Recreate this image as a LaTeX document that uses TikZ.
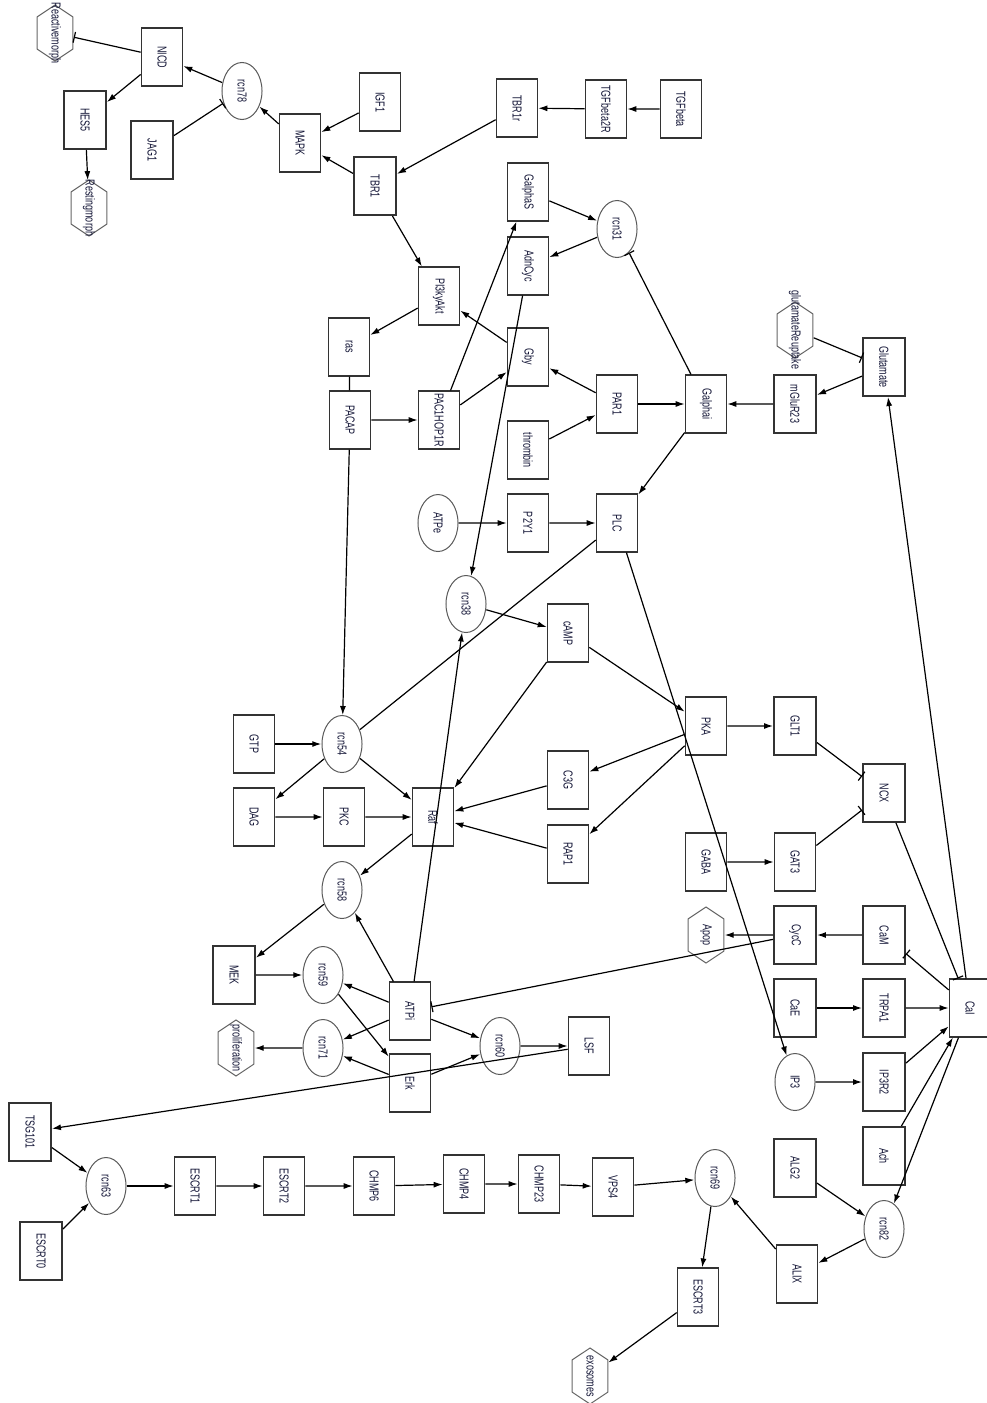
\documentclass[tikz,border=0pt]{standalone}
\usepackage{fontspec}
\setmainfont{Liberation Sans}
\usepackage{tikz}
\usetikzlibrary{arrows.meta,shapes.geometric,shapes.symbols}
\definecolor{lbl}{RGB}{20,22,55}
\newcommand{\wide}[1]{\makebox[0pt]{#1}}

\begin{document}
\begin{tikzpicture}[x=1pt,y=-1pt,line width=1.2pt,
  >={Latex[length=9pt,width=6pt]},
  every node/.style={rotate=-90,yscale=1.45,inner sep=0pt,font=\fontsize{9}{10}\selectfont,text=lbl},
  box/.style={draw=black!80,line width=1.1pt,minimum width=58pt,minimum height=28.3pt},
  bold/.style={box,line width=2pt},
  rcn/.style={ellipse,draw=black!65,line width=1pt,minimum width=57pt,minimum height=27.6pt},
  hex/.style={signal,signal to=east and west,signal pointer angle=92,
    draw=black!60,line width=1pt,minimum width=56pt,minimum height=24.8pt},
  inh/.style={-{Bar[width=11pt]}}]
\useasboundingbox (0,0) rectangle (987,1403);
% phenotypes
\node[hex] (reactive) at (55,33) {\wide{Reactivemorph}};
\node[hex] (resting) at (89,208) {\wide{Restingmorph}};
\node[hex] (glureup) at (795,330) {\wide{glutamateReuptake}};
\node[hex] (apop) at (706,935) {Apop};
\node[hex] (prolif) at (236,1048) {\wide{proliferation}};
\node[hex] (exo) at (590,1376) {\wide{exosomes}};
% reactions
\node[rcn] (rcn78) at (242,91) {rcn78};
\node[rcn] (rcn31) at (617,229) {rcn31};
\node[rcn] (atpe) at (438,523) {ATPe};
\node[rcn] (rcn38) at (466,604) {rcn38};
\node[rcn] (rcn54) at (342,744) {rcn54};
\node[rcn] (rcn58) at (342,890) {rcn58};
\node[rcn] (rcn59) at (323,975) {rcn59};
\node[rcn] (rcn71) at (323,1048) {rcn71};
\node[rcn] (rcn60) at (500,1046) {rcn60};
\node[rcn] (ip3) at (795,1082) {IP3};
\node[rcn] (rcn63) at (106,1186) {rcn63};
\node[rcn] (rcn69) at (715,1178) {rcn69};
\node[rcn] (rcn82) at (884,1229) {rcn82};
% species
\node[box] (nicd) at (162,57) {NICD};
\node[bold] (hes5) at (85,120) {HES5};
\node[bold] (jag1) at (152,150) {JAG1};
\node[box] (mapk) at (300,143) {MAPK};
\node[box] (igf1) at (380,102) {IGF1};
\node[box] (tbr1r) at (517,108) {TBR1r};
\node[box] (tgfb2r) at (606,109) {TGFbeta2R};
\node[box] (tgfb) at (681,109) {TGFbeta};
\node[bold] (tbr1) at (375,186) {TBR1};
\node[box] (galphas) at (528,192) {GalphaS};
\node[box] (adncyc) at (528,266) {AdnCyc};
\node[box] (pi3k) at (439,296) {PI3kyAkt};
\node[box] (ras) at (349,347) {ras};
\node[box] (gby) at (528,357) {Gby};
\node[box] (pacap) at (350,420) {PACAP};
\node[box] (pac1) at (439,420) {\wide{PAC1HOP1R}};
\node[box] (par1) at (617,404) {PAR1};
\node[box] (thrombin) at (528,450) {thrombin};
\node[box] (p2y1) at (528,523) {P2Y1};
\node[box] (plc) at (617,523) {PLC};
\node[box] (camp) at (568,633) {cAMP};
\node[box] (galphai) at (706,404) {Galphai};
\node[bold] (mglur) at (795,404) {mGluR23};
\node[bold] (glut) at (884,367) {Glutamate};
\node[box] (gtp) at (254,744) {GTP};
\node[box] (dag) at (254,817) {DAG};
\node[box] (pkc) at (344,817) {PKC};
\node[box] (raf) at (433,817) {Raf};
\node[box] (c3g) at (568,780) {C3G};
\node[box] (rap1) at (568,854) {RAP1};
\node[bold] (mek) at (234,975) {MEK};
\node[box] (atpi) at (410,1011) {ATPi};
\node[box] (lsf) at (589,1046) {LSF};
\node[box] (erk) at (410,1083) {Erk};
\node[box] (pka) at (706,726) {PKA};
\node[bold] (glt1) at (795,726) {GLT1};
\node[bold] (ncx) at (884,793) {NCX};
\node[box] (gaba) at (706,862) {GABA};
\node[box] (gat3) at (795,862) {GAT3};
\node[bold] (cycc) at (795,935) {CycC};
\node[bold] (cam) at (884,935) {CaM};
\node[bold] (cae) at (795,1008) {CaE};
\node[bold] (trpa1) at (884,1008) {TRPA1};
\node[box] (cai) at (970,1008) {CaI};
\node[bold] (ip3r2) at (884,1082) {IP3R2};
\node[bold] (ach) at (884,1156) {Ach};
\node[bold] (alg2) at (795,1168) {ALG2};
\node[box] (alix) at (797,1274) {ALIX};
\node[box] (escrt3) at (698,1297) {ESCRT3};
\node[bold] (tsg101) at (30,1132) {TSG101};
\node[bold] (escrt0) at (41,1251) {ESCRT0};
\node[box] (escrt1) at (195,1186) {ESCRT1};
\node[box] (escrt2) at (284,1186) {ESCRT2};
\node[box] (chmp6) at (374,1186) {CHMP6};
\node[box] (chmp4) at (464,1184) {CHMP4};
\node[box] (chmp23) at (539,1184) {CHMP23};
\node[box] (vps4) at (613,1187) {VPS4};
% activations
\draw[->] (rcn78)--(nicd); \draw[->] (nicd)--(hes5);
\draw[->] (mapk)--(rcn78); \draw[->] (hes5)--(resting);
\draw[->] (igf1)--(mapk); \draw[->] (tbr1)--(mapk);
\draw[->] (tgfb)--(tgfb2r); \draw[->] (tgfb2r)--(tbr1r);
\draw[->] (tbr1r)--(tbr1); \draw[->] (tbr1)--(pi3k);
\draw[->] (galphas)--(rcn31); \draw[->] (rcn31)--(adncyc);
\draw[->] (pi3k)--(ras); \draw[->] (gby)--(pi3k);
\draw[->] (pac1)--(galphas); \draw[->] (adncyc)--(rcn38);
\draw[->] (pacap)--(pac1); \draw[->] (pac1)--(gby);
\draw[->] (par1)--(gby); \draw[->] (thrombin)--(par1);
\draw[->] (par1)--(galphai); \draw[->] (mglur)--(galphai);
\draw[->] (glut)--(mglur); \draw[->] (galphai)--(plc);
\draw[->] (atpe)--(p2y1); \draw[->] (p2y1)--(plc);
\draw[->] (plc)--(ip3); \draw[->] (rcn38)--(camp);
\draw[->] (camp)--(pka); \draw[->] (camp)--(raf);
\draw[->] (pka)--(c3g); \draw[->] (pka)--(rap1);
\draw[->] (c3g)--(raf); \draw[->] (rap1)--(raf);
\draw[->] (pacap)--(rcn54); \draw[->] (gtp)--(rcn54);
\draw[->] (rcn54)--(dag); \draw[->] (dag)--(pkc);
\draw[->] (pkc)--(raf); \draw[->] (rcn54)--(raf);
\draw[->] (raf)--(rcn58); \draw[->] (atpi)--(rcn38);
\draw[->] (atpi)--(rcn58); \draw[->] (rcn58)--(mek);
\draw[->] (mek)--(rcn59); \draw[->] (atpi)--(rcn59);
\draw[->] (rcn59)--(erk); \draw[->] (atpi)--(rcn71);
\draw[->] (erk)--(rcn71); \draw[->] (rcn71)--(prolif);
\draw[->] (atpi)--(rcn60); \draw[->] (erk)--(rcn60);
\draw[->] (rcn60)--(lsf); \draw[->] (lsf)--(tsg101);
\draw[->] (tsg101)--(rcn63); \draw[->] (escrt0)--(rcn63);
\draw[->] (rcn63)--(escrt1); \draw[->] (escrt1)--(escrt2);
\draw[->] (escrt2)--(chmp6); \draw[->] (chmp6)--(chmp4);
\draw[->] (chmp4)--(chmp23); \draw[->] (chmp23)--(vps4);
\draw[->] (vps4)--(rcn69); \draw[->] (rcn69)--(escrt3);
\draw[->] (escrt3)--(exo); \draw[->] (alix)--(rcn69);
\draw[->] (alg2)--(rcn82); \draw[->] (rcn82)--(alix);
\draw[->] (cai)--(rcn82); \draw[->] (ip3)--(ip3r2);
\draw[->] (ip3r2)--(cai); \draw[->] (ach)--(cai);
\draw[->] (cae)--(trpa1); \draw[->] (trpa1)--(cai);
\draw[->] (cam)--(cycc); \draw[->] (cycc)--(apop);
\draw[->] (cai)--(glut); \draw[->] (pka)--(glt1);
\draw[->] (gaba)--(gat3);
% inhibitions
\draw[inh] (nicd)--(reactive); \draw[inh] (jag1)--(rcn78);
\draw[inh] (galphai)--(rcn31); \draw[inh] (glureup)--(glut);
\draw[inh] (cai)--(cam); \draw[inh] (cycc)--(atpi);
\draw[inh] (ncx)--(cai); \draw[inh] (glt1)--(ncx);
\draw[inh] (gat3)--(ncx);
% plain links
\draw (ras)--(pacap); \draw (plc)--(rcn54);
\end{tikzpicture}
\end{document}
